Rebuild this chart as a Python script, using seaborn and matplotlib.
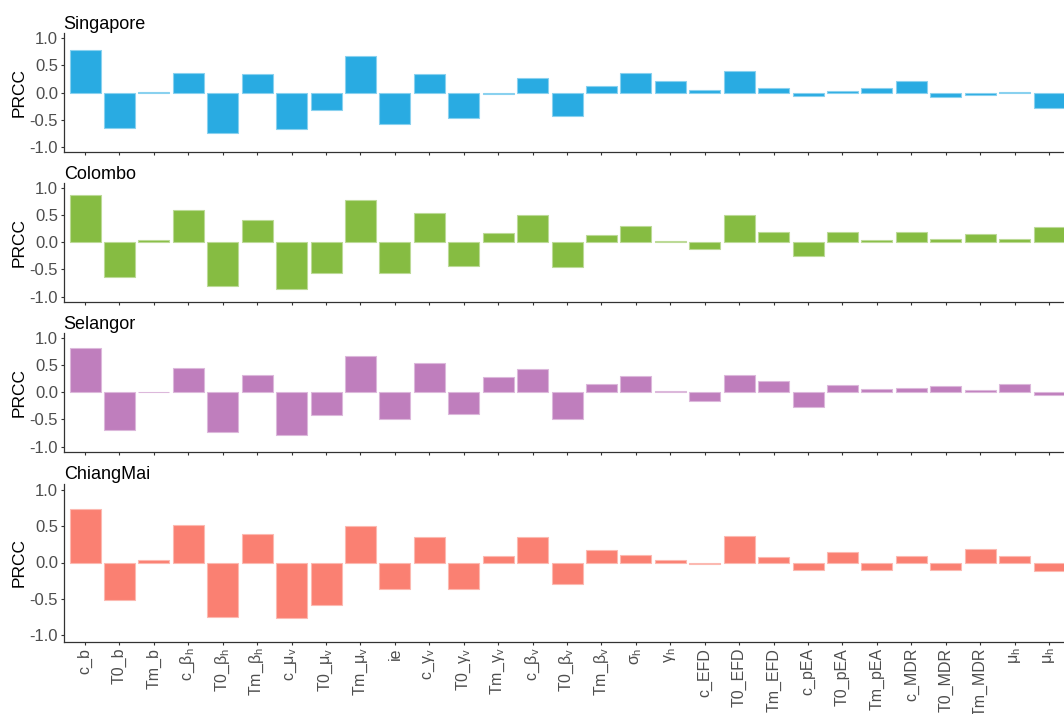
import numpy as np
import pandas as pd
import matplotlib
matplotlib.use("Agg")
import matplotlib.pyplot as plt
import matplotlib.colors as mcolors
import seaborn as sns

# ---------------- data ----------------
param_labels = ['c_b', 'T0_b', 'Tm_b',
                'c_$\\beta_h$', 'T0_$\\beta_h$', 'Tm_$\\beta_h$',
                'c_$\\mu_v$', 'T0_$\\mu_v$', 'Tm_$\\mu_v$', 'ie',
                'c_$\\gamma_v$', 'T0_$\\gamma_v$', 'Tm_$\\gamma_v$',
                'c_$\\beta_v$', 'T0_$\\beta_v$', 'Tm_$\\beta_v$',
                '$\\sigma_h$', '$\\gamma_h$',
                'c_EFD', 'T0_EFD', 'Tm_EFD',
                'c_pEA', 'T0_pEA', 'Tm_pEA',
                'c_MDR', 'T0_MDR', 'Tm_MDR',
                '$\\mu_h$', '$\\mu_h$']

singapore = [0.78, -0.64, 0.02, 0.36, -0.74, 0.34, -0.66, -0.31, 0.67, -0.58,
             0.34, -0.46, -0.03, 0.27, -0.43, 0.12, 0.36, 0.21, 0.05, 0.39,
             0.086, -0.055, 0.03, 0.08, 0.21, -0.07, -0.05, 0.005, -0.28]
colombo = [0.86, -0.64, 0.04, 0.59, -0.81, 0.41, -0.86, -0.56, 0.78, -0.56,
           0.54, -0.43, 0.165, 0.49, -0.46, 0.135, 0.29, 0.03, -0.12, 0.50,
           0.18, -0.25, 0.18, 0.037, 0.18, 0.06, 0.147, 0.067, 0.28]
selangor = [0.82, -0.70, 0.005, 0.45, -0.73, 0.31, -0.78, -0.41, 0.67, -0.49,
            0.54, -0.40, 0.27, 0.42, -0.50, 0.15, 0.29, 0.03, -0.165, 0.31,
            0.21, -0.275, 0.14, 0.06, 0.08, 0.11, 0.037, 0.15, -0.055]
chiangmai = [0.74, -0.52, 0.03, 0.52, -0.75, 0.39, -0.76, -0.58, 0.51, -0.36,
             0.35, -0.36, 0.09, 0.35, -0.30, 0.175, 0.097, 0.03, -0.025, 0.36,
             0.07, -0.11, 0.14, -0.105, 0.087, -0.11, 0.19, 0.087, -0.12]

regions = ['Singapore', 'Colombo', 'Selangor', 'ChiangMai']
region_values = [singapore, colombo, selangor, chiangmai]
region_colors = ['#29ABE2', '#86BC42', '#BF7EBD', '#FA8072']

y_ticks = [-1.0, -0.5, 0.0, 0.5, 1.0]
y_ticklabels = ['-1.0', '-0.5', '0.0', '0.5', '1.0']

# ---------------- style ----------------
sns.set_theme(style='white')
plt.rcParams['font.family'] = ['Liberation Sans', 'DejaVu Sans']
plt.rcParams['mathtext.fontset'] = 'custom'
plt.rcParams['mathtext.rm'] = 'Liberation Sans'
plt.rcParams['mathtext.it'] = 'Liberation Sans'
plt.rcParams['mathtext.bf'] = 'Liberation Sans:bold'
plt.rcParams['axes.unicode_minus'] = False

W, H = 1064, 714
fig = plt.figure(figsize=(W / 100, H / 100), dpi=100)

left_px, width_px = 63.7, 1006.0
# (top, bottom) pixel rows of each panel
panel_px = [(33.1, 152.3), (182.8, 301.6), (332.8, 451.6), (483.5, 641.5)]

axis_grey = '#333333'
text_grey = '#4D4D4D'

n = len(param_labels)
for i, (name, vals, col) in enumerate(zip(regions, region_values, region_colors)):
    top, bot = panel_px[i]
    ax = fig.add_axes([left_px / W, 1 - bot / H, width_px / W, (bot - top) / H])
    df = pd.DataFrame({'param': list(range(n)), 'PRCC': vals})
    edge = mcolors.to_hex(0.55 * np.array(mcolors.to_rgb(col)) + 0.45)
    sns.barplot(data=df, x='param', y='PRCC', ax=ax, color=col, saturation=1,
                width=0.9, errorbar=None, edgecolor=edge, linewidth=0.8)
    ax.set_xlim(-0.62, n - 1 + 0.6)
    ax.set_ylim(-1.09, 1.09)
    ax.set_yticks(y_ticks)
    ax.set_yticklabels(y_ticklabels, fontsize=12, color=text_grey)
    ax.set_xticks(range(n))
    if i == len(regions) - 1:
        ax.set_xticklabels(param_labels, rotation=90, fontsize=11.5,
                           color=text_grey, ha='center', va='top')
    else:
        ax.set_xticklabels([])
    ax.set_xlabel('')
    ax.set_ylabel('PRCC', fontsize=12.5, color='black')
    ax.yaxis.set_label_coords(-0.037, 0.5)
    ax.set_title(name, loc='left', fontsize=13, color='black', pad=3)
    for s in ['top', 'right']:
        ax.spines[s].set_visible(False)
    for s in ['left', 'bottom']:
        ax.spines[s].set_color(axis_grey)
        ax.spines[s].set_linewidth(0.9)
    ax.tick_params(axis='both', which='major', length=2.5, width=0.8,
                   color=axis_grey, pad=1.5, left=True, bottom=True)
    ax.tick_params(axis='x', pad=2)

fig.savefig('out.png', dpi=100)
